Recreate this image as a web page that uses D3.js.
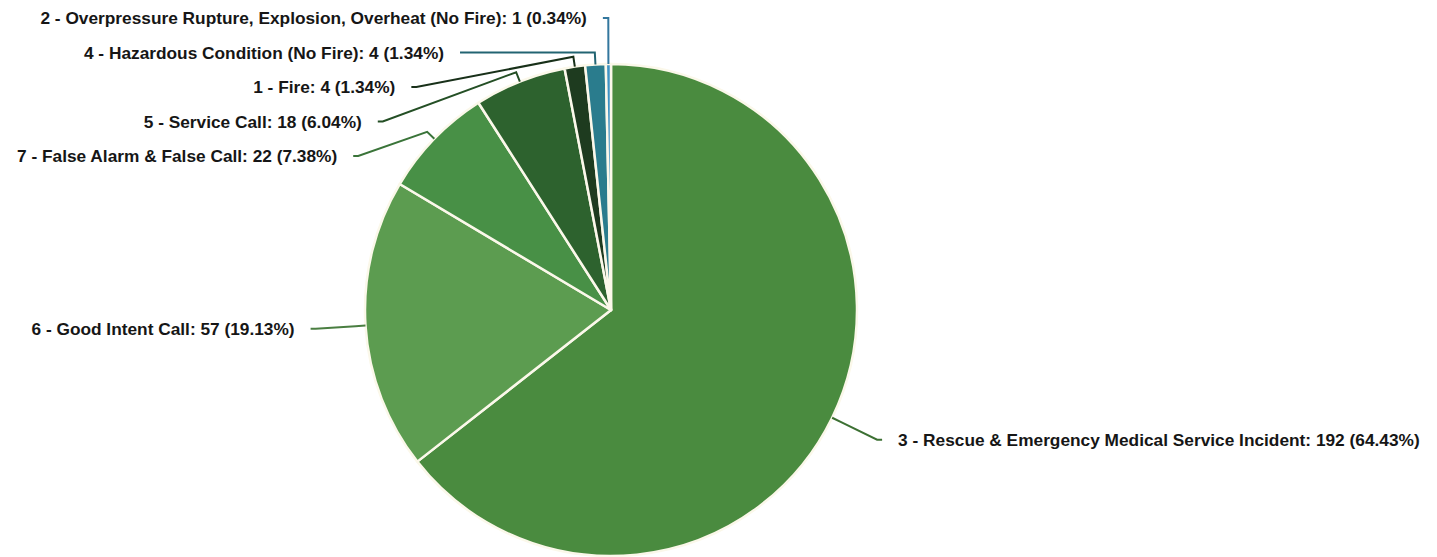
<!DOCTYPE html>
<html>
<head>
<meta charset="utf-8">
<title>Incident types</title>
<script src="https://cdn.jsdelivr.net/npm/d3@7"></script>
<style>
  html, body { margin: 0; padding: 0; background: #fff; }
  svg { display: block; }
</style>
</head>
<body>
<svg id="chart"></svg>
<script>
// Incident type pie — slices clockwise from 12 o'clock, labels with connectors.

const codes = ["3", "6", "7", "5", "1", "4", "2"];
const names = [
  "Rescue & Emergency Medical Service Incident",
  "Good Intent Call",
  "False Alarm & False Call",
  "Service Call",
  "Fire",
  "Hazardous Condition (No Fire)",
  "Overpressure Rupture, Explosion, Overheat (No Fire)",
];
const counts = [192, 57, 22, 18, 4, 4, 1];
const sliceColors = ["#4a8b3f", "#5c9c50", "#489046", "#2d622e", "#1e3b1f", "#2a7c8d", "#3f93c4"];

const W = 1437, H = 557;
const CX = 611, CY = 310, R = 246;
const LABEL_R = 296;   // ring the label anchors sit on
const BREAK_R = 256;   // where the connector bends before touching the slice
const LABEL_TOP = 18, LABEL_BOTTOM = H - 18, LABEL_GAP = 34.5;
const TEXT_OFFSET = 21;
const FONT = "bold 17.3px 'Liberation Sans', Arial, sans-serif";

const data = codes.map((code, i) => ({ code, name: names[i], count: counts[i] }));
const total = d3.sum(counts);
const color = d3.scaleOrdinal().domain(codes).range(sliceColors);

const svg = d3.select("#chart").attr("width", W).attr("height", H);
svg.append("rect").attr("width", W).attr("height", H).attr("fill", "#fff");

const pie = d3.pie().sort(null).value((d) => d.count);
const arcs = pie(data);
const arc = d3.arc().innerRadius(0).outerRadius(R);

const g = svg.append("g").attr("transform", `translate(${CX},${CY})`);
g.selectAll("path.slice").data(arcs).enter().append("path")
  .attr("class", "slice")
  .attr("d", arc)
  .attr("fill", (d) => color(d.data.code))
  .attr("stroke", "#fbf8ea")
  .attr("stroke-width", 2.5)
  .attr("stroke-linejoin", "round");

// label layout: natural height on the label ring, then stack overlapping labels
const polar = (rad, a) => [CX + rad * Math.sin(a), CY - rad * Math.cos(a)];
const labels = arcs.map((d) => {
  const mid = (d.startAngle + d.endAngle) / 2;
  return { d, mid, left: Math.sin(mid) < 0, naturalY: polar(LABEL_R, mid)[1] };
});

function distribute(items) {
  items.sort((a, b) => a.naturalY - b.naturalY);
  const place = (c) => {
    const span = (c.items.length - 1) * LABEL_GAP;
    const start = d3.mean(c.items, (x) => x.naturalY) - span / 2;
    c.y = Math.max(LABEL_TOP, Math.min(start, LABEL_BOTTOM - span));
  };
  const clusters = items.map((x) => ({ items: [x] }));
  clusters.forEach(place);
  let merged = true;
  while (merged) {
    merged = false;
    for (let i = 0; i < clusters.length - 1; i++) {
      const a = clusters[i], b = clusters[i + 1];
      if (a.y + a.items.length * LABEL_GAP > b.y) {
        a.items = a.items.concat(b.items);
        clusters.splice(i + 1, 1);
        place(a);
        merged = true;
        break;
      }
    }
  }
  clusters.forEach((c) => c.items.forEach((x, k) => { x.y = c.y + k * LABEL_GAP; }));
}
distribute(labels.filter((l) => l.left));
distribute(labels.filter((l) => !l.left));

labels.forEach((l) => {
  const clamped = l.y <= LABEL_TOP + 2 || l.y >= LABEL_BOTTOM - 2;
  const dy = (clamped ? l.naturalY : l.y) - CY;
  const dir = l.left ? -1 : 1;
  l.x = CX + dir * Math.sqrt(Math.max(0, LABEL_R * LABEL_R - dy * dy));
  const edge = polar(R, l.mid);
  const brk = polar(BREAK_R, l.mid);
  const pts = [[l.x + dir * 5, l.y], [l.x, l.y]];
  if (l.y < brk[1]) pts.push([brk[0], l.y]);
  else pts.push(brk);
  pts.push(edge);
  l.points = pts;
  l.textX = l.x + dir * TEXT_OFFSET;
});

const fmtPct = d3.format(".2f");
const lab = svg.append("g");
lab.selectAll("path.connector").data(labels).enter().append("path")
  .attr("class", "connector")
  .attr("d", (l) => d3.line()(l.points))
  .attr("fill", "none")
  .attr("stroke", (l) => d3.color(color(l.d.data.code)).darker(0.6))
  .attr("stroke-width", 2);

lab.selectAll("text.label").data(labels).enter().append("text")
  .attr("class", "label")
  .attr("x", (l) => l.textX)
  .attr("y", (l) => l.y)
  .attr("dy", "0.35em")
  .attr("text-anchor", (l) => l.left ? "end" : "start")
  .style("font", FONT)
  .style("fill", "#161616")
  .text((l) => `${l.d.data.code} - ${l.d.data.name}: ${l.d.data.count} (${fmtPct(l.d.data.count / total * 100)}%)`);
</script>
</body>
</html>
